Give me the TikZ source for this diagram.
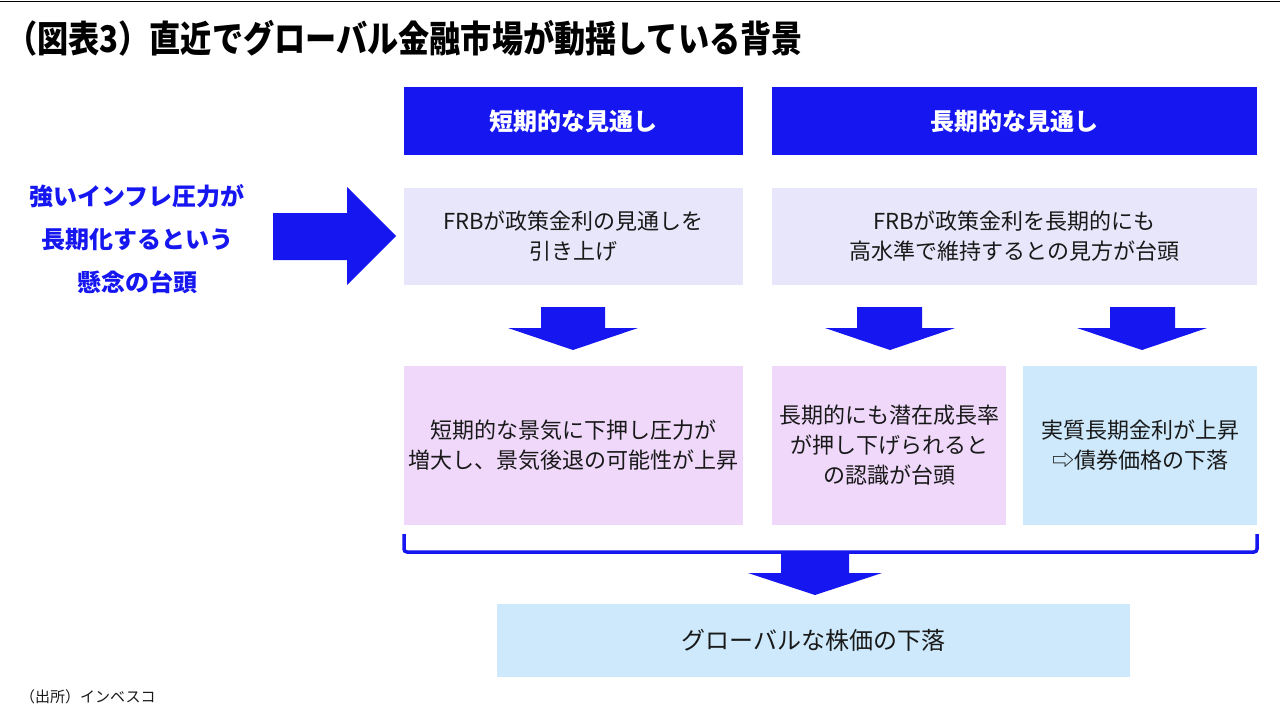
\documentclass[tikz,border=0pt]{standalone}
\usepackage{fontspec}
\setmainfont{Noto Sans CJK JP}
\definecolor{hblue}{RGB}{22,22,240}
\definecolor{lav}{RGB}{232,230,250}
\definecolor{pinklav}{RGB}{239,216,250}
\definecolor{lblue}{RGB}{205,233,251}
\definecolor{txt}{RGB}{25,25,25}
\tikzset{
  headbox/.style={fill=hblue, draw=none, text=white, inner sep=0pt, align=center,
    font=\fontsize{24}{30}\selectfont\bfseries},
  infobox/.style={draw=none, inner sep=0pt, align=center, text=txt,
    font=\fontsize{22}{30}\selectfont},
  blockarrow/.style={fill=hblue, draw=none},
}
\begin{document}
\begin{tikzpicture}[x=1pt,y=-1pt]
\useasboundingbox (0,0) rectangle (1280,720);
\fill[white] (0,0) rectangle (1280,720);
\draw[black, line width=1.2pt] (0,1.5) -- (1280,1.5);

% title
\node[anchor=west, inner sep=0pt, text=black] (title) at (6,38)
  {\scalebox{0.89}[1.05]{\fontsize{35}{40}\selectfont\bfseries （図表3）直近でグローバル金融市場が動揺している背景}};

% headers
\node[headbox, minimum width=339pt, minimum height=68pt] (h1) at (573.5,121) {短期的な見通し};
\node[headbox, minimum width=485pt, minimum height=68pt] (h2) at (1014.5,121) {長期的な見通し};

% upper boxes
\node[infobox, fill=lav, minimum width=339pt, minimum height=97pt] (u1) at (573.5,236.5)
  {FRBが政策金利の見通しを\\引き上げ};
\node[infobox, fill=lav, minimum width=485pt, minimum height=97pt] (u2) at (1014.5,236.5)
  {FRBが政策金利を長期的にも\\高水準で維持するとの見方が台頭};

% left text
\node[align=center, inner sep=0pt, text=hblue, font=\fontsize{24}{43}\selectfont\bfseries] (left) at (137,239)
  {強いインフレ圧力が\\長期化するという\\懸念の台頭};

% right block arrow
\fill[blockarrow] (273,213) -- (347,213) -- (347,187) -- (396,236) -- (347,285) -- (347,260) -- (273,260) -- cycle;

% down arrows
\fill[blockarrow] (541,307) -- (605,307) -- (605,328) -- (638,328) -- (573,350) -- (508,328) -- (541,328) -- cycle;
\fill[blockarrow] (857,307) -- (922,307) -- (922,328) -- (955,328) -- (890,350) -- (825,328) -- (857,328) -- cycle;
\fill[blockarrow] (1110,307) -- (1175,307) -- (1175,328) -- (1207,328) -- (1142,350) -- (1077,328) -- (1110,328) -- cycle;

% lower boxes
\node[infobox, fill=pinklav, minimum width=339pt, minimum height=159pt] (l1) at (573.5,445.5)
  {短期的な景気に下押し圧力が\\増大し、景気後退の可能性が上昇};
\node[infobox, fill=pinklav, minimum width=234pt, minimum height=159pt] (l2) at (889,445.5)
  {長期的にも潜在成長率\\が押し下げられると\\の認識が台頭};
\node[infobox, fill=lblue, minimum width=234pt, minimum height=159pt] (l3) at (1140,445.5)
  {実質長期金利が上昇\\⇨債券価格の下落};

% bracket
\draw[hblue, line width=3.5pt, rounded corners=3pt] (404,534) -- (404,552) -- (1257,552) -- (1257,534);

% bottom arrow
\fill[blockarrow] (781,553) -- (849,553) -- (849,573) -- (882,573) -- (815,595) -- (748,573) -- (781,573) -- cycle;

% bottom box
\node[infobox, fill=lblue, minimum width=633pt, minimum height=73pt, font=\fontsize{24}{30}\selectfont] (bot) at (813.5,640.5)
  {グローバルな株価の下落};

% source
\node[anchor=west, inner sep=0pt, text=txt, font=\fontsize{15}{18}\selectfont] (src) at (20,697) {（出所）インベスコ};
\end{tikzpicture}
\end{document}
